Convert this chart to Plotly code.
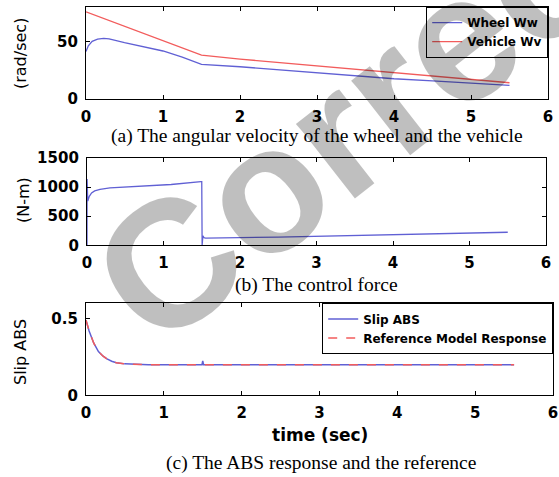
import plotly.graph_objects as go

# ---- data -------------------------------------------------------------
# (a) angular velocity of the wheel and the vehicle (rad/sec)
t_wheel = [0, 0.03, 0.08, 0.15, 0.23, 0.3, 0.5, 0.75, 1.0, 1.25, 1.5,
           2.0, 2.5, 3.0, 3.5, 4.0, 4.5, 5.0, 5.5]
wheel_ww = [41.5, 46.5, 50.5, 52.4, 53.0, 52.6, 49.3, 45.7, 42.0, 36.6, 30.3,
            28.2, 25.6, 23.0, 20.4, 17.7, 15.9, 14.2, 11.9]

t_vehicle = [0, 1.5, 2.0, 3.0, 4.0, 5.0, 5.5]
vehicle_wv = [76.2, 38.4, 34.9, 29.1, 23.0, 17.5, 14.2]

# (b) control force (N-m)
t_force = [0, 0.001, 0.01, 0.03, 0.06, 0.1, 0.17, 0.3, 0.5, 0.8, 1.1, 1.49,
           1.5, 1.505, 1.515, 1.53, 1.55, 2.5, 3.5, 4.5, 5.5]
force = [0, 1140, 760, 840, 900, 935, 962, 985, 1000, 1018, 1045, 1095,
         1095, 0, 165, 130, 125, 140, 168, 196, 224]

# (c) slip of the ABS and the reference model response
t_slip = [0, 0.04, 0.1, 0.16, 0.22, 0.27, 0.33, 0.39, 0.5, 0.65, 0.8, 1.0,
          1.49, 1.5, 1.51, 1.52, 2.0, 3.0, 4.0, 5.0, 5.5]
slip_abs = [0.49, 0.42, 0.34, 0.285, 0.255, 0.237, 0.222, 0.212, 0.205, 0.201,
            0.2, 0.2, 0.2, 0.225, 0.2, 0.2, 0.2, 0.2, 0.2, 0.2, 0.2]
slip_ref = [0.49, 0.42, 0.34, 0.285, 0.255, 0.237, 0.222, 0.212, 0.205, 0.201,
            0.2, 0.2, 0.2, 0.2, 0.2, 0.2, 0.2, 0.2, 0.2, 0.2, 0.2]

x_ticks = [0, 1, 2, 3, 4, 5, 6]

# ---- styling ----------------------------------------------------------
W, H = 559, 477
BLUE = "#6060d4"
RED = "#f25c5c"
TICK_FONT = dict(family="DejaVu Sans", size=15, color="black", weight="bold")
LEG_FONT = dict(family="DejaVu Sans", size=12, color="black", weight="bold")
CAP_FONT = dict(family="Liberation Serif", size=19.5, color="black")
YT_FONT = dict(family="DejaVu Sans", size=16, color="black")


def px_x(a, b):
    return [a / W, b / W]


def px_y(top, bottom):
    return [1 - bottom / H, 1 - top / H]


fig = go.Figure()

fig.add_trace(go.Scatter(x=t_wheel, y=wheel_ww, mode="lines", name="Wheel Ww",
                         line=dict(color=BLUE, width=1.3),
                         xaxis="x", yaxis="y", legend="legend"))
fig.add_trace(go.Scatter(x=t_vehicle, y=vehicle_wv, mode="lines", name="Vehicle Wv",
                         line=dict(color=RED, width=1.3),
                         xaxis="x", yaxis="y", legend="legend"))
fig.add_trace(go.Scatter(x=t_force, y=force, mode="lines", showlegend=False,
                         line=dict(color=BLUE, width=1.3),
                         xaxis="x2", yaxis="y2"))
fig.add_trace(go.Scatter(x=t_slip, y=slip_abs, mode="lines", name="Slip ABS",
                         line=dict(color=BLUE, width=1.5),
                         xaxis="x3", yaxis="y3", legend="legend2"))
fig.add_trace(go.Scatter(x=t_slip, y=slip_ref, mode="lines",
                         name="Reference Model Response",
                         line=dict(color=RED, width=1.5, dash="dash"),
                         xaxis="x3", yaxis="y3", legend="legend2"))

axis_common = dict(showline=True, linecolor="black", linewidth=1.3, mirror="ticks",
                   ticks="inside", ticklen=4, tickcolor="black", tickwidth=1.2,
                   showgrid=False, zeroline=False, tickfont=TICK_FONT,
                   automargin=False)

panels = [
    # (x domain px, y domain px, y range, y ticks)
    ("x", "y", (86, 548), (7, 99), [0, 80.5], [0, 50]),
    ("x2", "y2", (87, 546), (158, 245.3), [0, 1500], [0, 500, 1000, 1500]),
    ("x3", "y3", (86, 553), (303.3, 395.3), [0, 0.6], [0, 0.5]),
]
layout_axes = {}
for xa, ya, (x0, x1), (y0, y1), yr, yt in panels:
    xkey = "xaxis" + xa[1:]
    ykey = "yaxis" + ya[1:]
    layout_axes[xkey] = dict(axis_common, domain=px_x(x0, x1), range=[0, 6],
                             tickvals=x_ticks, anchor=ya, ticklabelstandoff=4)
    layout_axes[ykey] = dict(axis_common, domain=px_y(y0, y1), range=yr,
                             tickvals=yt, anchor=xa, ticklabelstandoff=4)

annotations = []


def text_at(x, y, txt, font, angle=0):
    annotations.append(dict(x=x / W, y=1 - y / H, xref="paper", yref="paper",
                            text=txt, showarrow=False, font=font,
                            textangle=angle, xanchor="center", yanchor="middle"))


text_at(317, 136, "(a) The angular velocity of the wheel and the vehicle", CAP_FONT)
text_at(316, 285, "(b) The control force", CAP_FONT)
text_at(320, 435, "<b>time (sec)</b>", dict(family="DejaVu Sans", size=17, color="black"))
text_at(321, 463, "(c) The ABS response and the reference", CAP_FONT)
text_at(21, 54, "(rad/sec)", YT_FONT, -90)
text_at(23, 200, "(N-m)", YT_FONT, -90)
text_at(20, 352, "Slip ABS", YT_FONT, -90)

# watermark lettering across the figure
annotations.append(dict(x=370 / W, y=1 - 108 / H, xref="paper", yref="paper",
                        text="<b>Correct</b>", showarrow=False, textangle=-38,
                        font=dict(family="Liberation Sans", size=180,
                                  color="rgba(0,0,0,0.25)"),
                        xanchor="center", yanchor="middle"))

legend_common = dict(bgcolor="white", bordercolor="black", borderwidth=1.2,
                     font=LEG_FONT, xref="paper", yref="paper",
                     xanchor="right", yanchor="top", itemwidth=30,
                     tracegroupgap=0)

fig.update_layout(
    template="none",
    width=W, height=H, margin=dict(l=0, r=0, t=0, b=0, autoexpand=False),
    paper_bgcolor="white", plot_bgcolor="white",
    annotations=annotations,
    legend=dict(legend_common, x=548 / W, y=1 - 7 / H),
    legend2=dict(legend_common, x=553 / W, y=1 - 303.3 / H),
    **layout_axes,
)

fig.write_html("out.html")
